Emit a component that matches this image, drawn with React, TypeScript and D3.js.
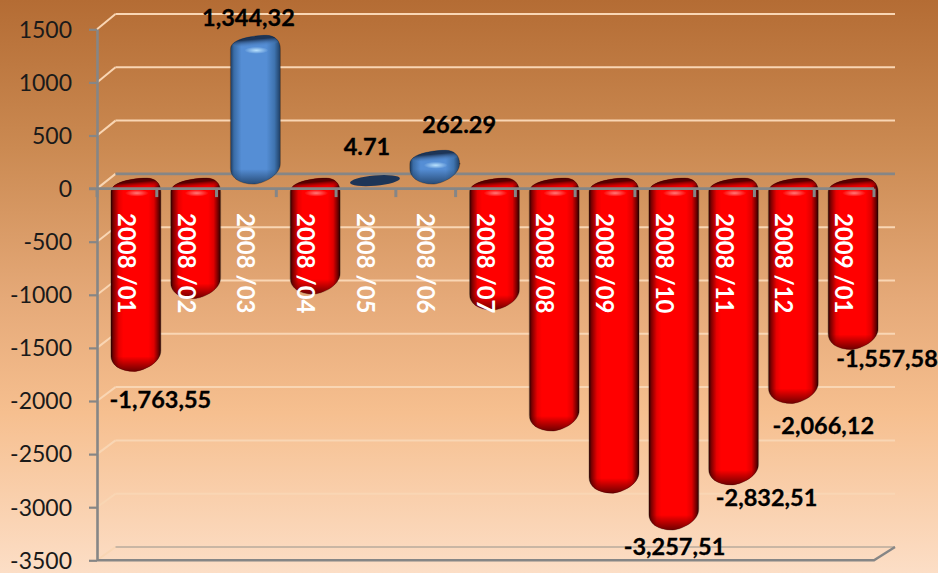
import React, { useEffect, useRef } from 'react';
import * as d3 from 'd3';

const categories = ['2008 /01', '2008 /02', '2008 /03', '2008 /04', '2008 /05', '2008 /06', '2008 /07', '2008 /08', '2008 /09', '2008 /10', '2008 /11', '2008 /12', '2009 /01'];
const values = [-1763.55, -1078, 1344.32, -1036, 4.71, 262.29, -1186, -2325, -2910, -3257.51, -2832.51, -2066.12, -1557.58];
const valueLabels = ['-1,763,55', '', '1,344,32', '', '4.71', '262.29', '', '', '', '-3,257,51', '-2,832,51', '-2,066,12', '-1,557,58'];
const yTicks = [1500, 1000, 500, 0, -500, -1000, -1500, -2000, -2500, -3000, -3500];

// hand placed labels, same as in the original, relative to the bar end
const labelDx = [24.5, 0, -7, 0, -8, 24.5, 0, 0, 0, 0.7, 33, 30, 34];
const labelDy = [32, 0, -20, 0, -33, -27.6, 0, 0, 0, 20.6, 16.7, 26, 13];

const WIDTH = 938;
const HEIGHT = 573;
const FONT = 'Lato, "Open Sans", sans-serif';
const GREY = '#868686';
const BAR_W = 50;
const BAR_SHIFT = 9;

function barPath(L: number, T: number, B: number) {
  const R = L + BAR_W;
  return `M${L},${T + 14}
    C${L},${T + 7} ${L + 9},${T + 3.5} ${L + 20},${T + 1.5}
    C${L + 26},${T + 0.3} ${L + 32},${T} ${L + 36},${T}
    C${L + 44},${T} ${R},${T + 5} ${R},${T + 14}
    L${R},${B - 21}
    C${R},${B - 9} ${R - 16},${B - 1} ${L + 24},${B}
    C${L + 8},${B} ${L},${B - 7} ${L},${B - 16} Z`;
}

export default function App() {
  const ref = useRef<SVGSVGElement>(null);

  useEffect(() => {
    const svg = d3.select(ref.current);
    svg.selectAll('*').remove();

    const x = d3.scaleBand().domain(categories).range([97, 874]);
    const y = d3.scaleLinear().domain([1500, -3500]).range([29.3, 560.3]);
    const yBack = d3.scaleLinear().domain([1500, -3500]).range([14, 547]);
    const backRight = 895;
    const backLeft = 115.5;

    const defs = svg.append('defs');
    const bg = defs.append('linearGradient').attr('id', 'bg').attr('x1', 0).attr('x2', 0).attr('y1', 0).attr('y2', 1);
    [[0, '#b46c34'], [0.26, '#cb8a52'], [0.52, '#e5a978'], [0.72, '#f6bf8f'], [1, '#fcdec6']].forEach(s => {
      bg.append('stop').attr('offset', s[0]).attr('stop-color', s[1]);
    });

    const addSide = (id: string, stops: any[]) => {
      const g = defs.append('linearGradient').attr('id', id);
      stops.forEach(s => g.append('stop').attr('offset', s[0]).attr('stop-color', s[1]));
    };
    addSide('redSide', [[0, '#2a0000'], [0.05, '#7a0000'], [0.16, '#e80000'], [0.25, '#ff0000'], [0.75, '#ff0000'], [0.86, '#e00000'], [0.95, '#700000'], [1, '#2a0000']]);
    addSide('blueSide', [[0, '#1c3a5e'], [0.07, '#3a6ca6'], [0.22, '#558ed5'], [0.72, '#558ed5'], [0.88, '#3f74b0'], [1, '#1e3d62']]);

    const addBottom = (id: string, color: string) => {
      const g = defs.append('linearGradient').attr('id', id).attr('x1', 0).attr('x2', 0).attr('y1', 0).attr('y2', 1);
      g.append('stop').attr('offset', 0).attr('stop-color', color).attr('stop-opacity', 0);
      g.append('stop').attr('offset', 1).attr('stop-color', color).attr('stop-opacity', 0.85);
    };
    addBottom('redBottom', '#4a0000');
    addBottom('blueBottom', '#1c3a5e');

    const addCap = (id: string, dark: string, mid: string) => {
      const g = defs.append('linearGradient').attr('id', id).attr('x1', 0).attr('x2', 0).attr('y1', 0).attr('y2', 1);
      g.append('stop').attr('offset', 0).attr('stop-color', dark);
      g.append('stop').attr('offset', 0.55).attr('stop-color', dark);
      g.append('stop').attr('offset', 1).attr('stop-color', mid).attr('stop-opacity', 0);
    };
    addCap('redCap', '#560000', '#ff0000');
    addCap('blueCap', '#1d3557', '#558ed5');

    const addGlow = (id: string, color: string) => {
      const g = defs.append('radialGradient').attr('id', id);
      g.append('stop').attr('offset', 0).attr('stop-color', color).attr('stop-opacity', 0.95);
      g.append('stop').attr('offset', 1).attr('stop-color', color).attr('stop-opacity', 0);
    };
    addGlow('redGlow', '#ff8080');
    addGlow('blueGlow', '#bfe6ff');

    svg.append('rect').attr('width', WIDTH).attr('height', HEIGHT).attr('fill', 'url(#bg)');

    // back wall lines
    const grid = svg.append('g');
    yTicks.forEach(t => {
      const zero = t === 0;
      const floor = t === -3500;
      grid.append('path')
        .attr('d', `M97,${y(t)}L${backLeft},${yBack(t)}`)
        .attr('fill', 'none')
        .attr('stroke', '#f9d6b4')
        .attr('stroke-width', 2);
      grid.append('path')
        .attr('d', `M${backLeft},${yBack(t)}L${backRight},${yBack(t)}`)
        .attr('fill', 'none')
        .attr('stroke', zero ? GREY : floor ? '#c9b6a4' : '#f9d6b4')
        .attr('stroke-width', zero ? 2.6 : 2);
    });

    // bars
    const bars = svg.append('g');
    categories.forEach((c, i) => {
      const v = values[i];
      const cx = (x(c) as number) + x.bandwidth() / 2 + BAR_SHIFT;
      const L = cx - BAR_W / 2;
      const kind = v < 0 ? 'red' : 'blue';
      const T = Math.min(y(v), y(0)) - 10.5;
      const B = Math.max(y(v), y(0)) - 4.5;

      if (Math.abs(v) < 20) {
        // almost no height, only the flat cap is left
        bars.append('ellipse')
          .attr('cx', cx).attr('cy', y(v) - 7.5)
          .attr('rx', BAR_W / 2).attr('ry', 5.2)
          .attr('transform', `rotate(-5 ${cx} ${y(v) - 7.5})`)
          .attr('fill', '#1d3557');
        return;
      }

      defs.append('clipPath').attr('id', `clip${i}`).append('path').attr('d', barPath(L, T, B));
      const g = bars.append('g').attr('clip-path', `url(#clip${i})`);
      g.append('rect').attr('x', L).attr('y', T - 2).attr('width', BAR_W).attr('height', B - T + 4).attr('fill', `url(#${kind}Side)`);
      g.append('rect').attr('x', L).attr('y', B - 15).attr('width', BAR_W).attr('height', 16).attr('fill', `url(#${kind}Bottom)`);
      g.append('ellipse')
        .attr('cx', cx + 2).attr('cy', T + 3)
        .attr('rx', 29).attr('ry', 8.5)
        .attr('transform', `rotate(-5 ${cx} ${T + 3})`)
        .attr('fill', `url(#${kind}Cap)`);
      g.append('ellipse')
        .attr('cx', cx + 1).attr('cy', T + 15)
        .attr('rx', 12).attr('ry', 3.5)
        .attr('fill', `url(#${kind}Glow)`);
      bars.append('path').attr('d', barPath(L, T, B)).attr('fill', 'none').attr('stroke', '#000').attr('stroke-opacity', 0.35).attr('stroke-width', 0.8);
    });

    // axes go over the bars
    const yAxis = svg.append('g')
      .attr('transform', 'translate(97,0)')
      .call(d3.axisLeft(y).tickValues(yTicks).tickFormat((d: any) => String(d)).tickSize(8).tickSizeOuter(0).tickPadding(17));
    yAxis.select('.domain').attr('stroke', GREY).attr('stroke-width', 2.6);
    yAxis.selectAll('.tick line').attr('stroke', GREY).attr('stroke-width', 2.2);
    yAxis.selectAll('text').attr('font-family', FONT).attr('font-size', 23).attr('fill', '#1a1a1a').attr('dy', '0.34em');

    const zeroLine = svg.append('g');
    zeroLine.append('line').attr('x1', 89).attr('x2', 874).attr('y1', y(0)).attr('y2', y(0)).attr('stroke', GREY).attr('stroke-width', 2.6);
    d3.range(0, categories.length + 1).forEach(i => {
      const tx = x.range()[0] + i * x.bandwidth();
      zeroLine.append('line').attr('x1', tx).attr('x2', tx).attr('y1', y(0)).attr('y2', y(0) + 8.5).attr('stroke', GREY).attr('stroke-width', 3);
    });

    svg.append('path')
      .attr('d', `M97,${y(-3500)}L874,${y(-3500)}L${backRight},${yBack(-3500)}`)
      .attr('fill', 'none').attr('stroke', GREY).attr('stroke-width', 2.4);

    // category names sit inside the bars
    categories.forEach(c => {
      const cx = (x(c) as number) + x.bandwidth() / 2;
      svg.append('text')
        .attr('transform', `translate(${cx - 9},213) rotate(90)`)
        .attr('font-family', FONT).attr('font-size', 24).attr('font-weight', 700)
        .attr('fill', '#fff')
        .text(c);
    });

    // value labels
    categories.forEach((c, i) => {
      if (!valueLabels[i]) return;
      const cx = (x(c) as number) + x.bandwidth() / 2 + BAR_SHIFT;
      svg.append('text')
        .attr('x', cx + labelDx[i]).attr('y', y(values[i]) + labelDy[i])
        .attr('text-anchor', 'middle')
        .attr('font-family', FONT).attr('font-size', 23.5).attr('font-weight', 700)
        .attr('fill', '#000').attr('stroke', '#000').attr('stroke-width', 0.3)
        .text(valueLabels[i]);
    });
  }, []);

  return <svg ref={ref} width={WIDTH} height={HEIGHT} style={{ position: 'absolute', left: 0, top: 0, display: 'block' }} />;
}
